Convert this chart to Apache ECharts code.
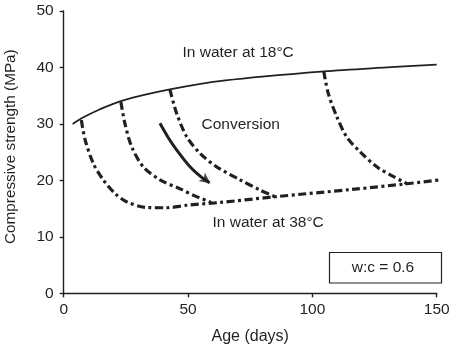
<!DOCTYPE html>
<html>
<head>
<meta charset="utf-8">
<script src="https://cdn.jsdelivr.net/npm/echarts@6/dist/echarts.min.js"></script>
<style>
  html, body { margin: 0; padding: 0; background: #fff; }
  #chart { width: 453px; height: 349px; }
</style>
</head>
<body>
<div id="chart"></div>
<script>
// Compressive strength (MPa) against age (days), w:c = 0.6
const xTicks = [0, 50, 100, 150];
const yTicks = [0, 10, 20, 30, 40, 50];

// Cured in water at 18 °C
const water18 = [[3.6, 30.0], [7.2, 31.0], [14.6, 32.6], [23.3, 34.1], [42.7, 36.1],
                 [65, 37.7], [104.7, 39.3], [130, 40.0], [150, 40.5]];

// Cured in water at 38 °C
const water38 = [[7.1, 30.7], [8.6, 27.2], [11.9, 23.0], [15.9, 20.1], [20.6, 17.7],
                 [25.3, 16.2], [33.4, 15.2], [41.4, 15.15], [49.5, 15.6], [63, 16.1],
                 [85, 17.1], [116, 18.4], [138, 19.4], [151.5, 20.1]];

// Conversion paths from 18 °C curing onto the 38 °C curve
const conversionA = [[23.0, 33.9], [24.6, 30.1], [27.3, 26.0], [32.0, 22.4], [38.7, 20.1],
                     [46.8, 18.5], [52.5, 17.3], [59.3, 16.1]];
const conversionB = [[42.7, 36.1], [45.4, 31.9], [49.5, 27.7], [54.8, 24.8], [61.5, 22.4],
                     [70.9, 20.1], [78.9, 18.3], [85.0, 17.1]];
const conversionC = [[104.6, 39.3], [106.4, 35.4], [109.8, 31.3], [113.8, 27.7], [119.1, 25.1],
                     [125.9, 22.4], [132.5, 20.7], [137.9, 19.45]];

// Arrow showing the direction of conversion
const arrowPath = [[38.7, 30.1], [42.0, 27.6], [45.4, 25.4], [50.8, 22.4], [55.0, 20.7], [58.6, 19.6]];
const arrowHead = [59.0, 19.45];

const ink = '#231f20';
const font = '"Liberation Sans", Arial, sans-serif';
const dashDot = [8, 3.5, 3, 3.5];

function dashSeries(data) {
  return {
    type: 'line', data: data, smooth: 0.3, symbol: 'none', clip: false, silent: true,
    lineStyle: { color: ink, width: 3.2, type: dashDot, cap: 'butt' }
  };
}

const chart = echarts.init(document.getElementById('chart'), null, { renderer: 'canvas' });
chart.setOption({
  animation: false,
  backgroundColor: '#fff',
  textStyle: { fontFamily: font },
  grid: { left: 63.7, right: 16.3, top: 11, bottom: 55.7, containLabel: false, outerBoundsMode: 'none' },
  xAxis: {
    type: 'value', min: xTicks[0], max: xTicks[xTicks.length - 1], interval: 50,
    name: 'Age (days)', nameLocation: 'middle', nameGap: 35,
    nameTextStyle: { color: ink, fontSize: 16, fontFamily: font },
    axisLine: { lineStyle: { color: ink, width: 1.4 } },
    axisTick: { length: 4, lineStyle: { color: ink, width: 1.4 } },
    axisLabel: { color: ink, fontSize: 15.5, fontFamily: font, margin: 8 },
    splitLine: { show: false }
  },
  yAxis: {
    type: 'value', min: yTicks[0], max: yTicks[yTicks.length - 1], interval: 10,
    name: 'Compressive strength (MPa)', nameLocation: 'middle', nameGap: 45,
    nameTextStyle: { color: ink, fontSize: 15.3, fontFamily: font, padding: [0, 0, 0, 11] },
    axisLine: { show: true, lineStyle: { color: ink, width: 1.4 } },
    axisTick: { show: true, length: 4, lineStyle: { color: ink, width: 1.4 } },
    axisLabel: { color: ink, fontSize: 15.5, fontFamily: font, margin: 10 },
    splitLine: { show: false }
  },
  series: [
    {
      type: 'line', data: water18, smooth: 0.3, symbol: 'none', silent: true,
      lineStyle: { color: ink, width: 1.8 }
    },
    dashSeries(water38),
    dashSeries(conversionA),
    dashSeries(conversionB),
    dashSeries(conversionC),
    {
      type: 'line', data: arrowPath, smooth: 0.3, symbol: 'none', silent: true,
      lineStyle: { color: ink, width: 3 }
    },
    {
      type: 'scatter', data: [arrowHead], symbol: 'arrow', symbolSize: [8, 11],
      symbolRotate: -127, silent: true, itemStyle: { color: ink }
    }
  ],
  graphic: [
    { type: 'text', left: 182.5, top: 45, silent: true,
      style: { text: 'In water at 18°C', fill: ink, font: '15.5px ' + font } },
    { type: 'text', left: 201.5, top: 117, silent: true,
      style: { text: 'Conversion', fill: ink, font: '15.5px ' + font } },
    { type: 'text', left: 212.5, top: 214.5, silent: true,
      style: { text: 'In water at 38°C', fill: ink, font: '15.5px ' + font } },
    { type: 'rect', silent: true,
      shape: { x: 329.5, y: 252.5, width: 112, height: 30.5 },
      style: { fill: '#fff', stroke: ink, lineWidth: 1.2 } },
    { type: 'text', x: 383, y: 268, silent: true,
      style: { text: 'w:c = 0.6', fill: ink, font: '15.5px ' + font, align: 'center', verticalAlign: 'middle' } }
  ]
});
</script>
</body>
</html>
